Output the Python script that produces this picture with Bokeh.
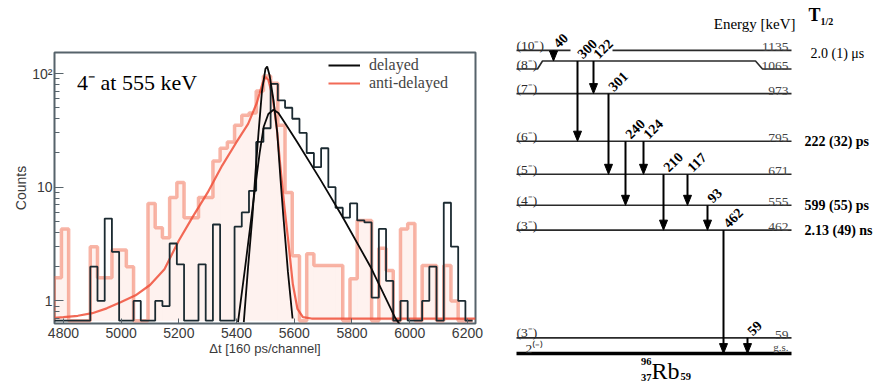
import math
import numpy as np
from bokeh.plotting import figure
from bokeh.layouts import row
from bokeh.models import (Range1d, FixedTicker, Legend, LegendItem, Label, Plot)
from bokeh.core.properties import value
from bokeh.embed import file_html
from bokeh.resources import INLINE

# ---------------- time spectrum data ----------------
BIN_START = 4768
BIN_WIDTH = 25
delayed_counts = [0, 0, 0, 0, 0,
                  2.0, 1.0, 5.3, 2.7, 0,
                  0, 1.0, 0, 0, 1.0,
                  0.9, 3.2, 2.1, 0, 0,
                  2.1, 0, 4.7, 0, 0,
                  4.5, 6.0, 9.3, 25, 33,
                  81, 58, 50, 40, 30,
                  20, 15, 22, 10, 6.6,
                  5.4, 7.2, 5.1, 4.9, 1.07,
                  4.3, 1.5, 0, 1.0, 0,
                  0, 1.0, 2.0, 0, 7.3,
                  3.0, 1.0, 0]
anti_delayed_counts = [1.6, 4.3, 0, 0, 0,
                       3.0, 1.6, 1.6, 2.8, 2.8,
                       2.0, 0, 0, 7.2, 4.4,
                       3.6, 8.1, 11, 5.4, 5.4,
                       8.1, 8.1, 17, 22, 25,
                       35, 43, 45, 70, 95,
                       82, 35, 9, 2.5, 0,
                       2.6, 2.05, 2.05, 2.05, 2.05,
                       0, 1.57, 5.1, 5.1, 0,
                       2.9, 1.85, 0, 4.3, 4.8,
                       0, 2.05, 2.05, 0, 2.05,
                       1.0, 0, 0]

prompt_fit_t = [5425, 5440, 5455, 5466, 5476, 5488, 5500, 5506, 5515, 5528, 5541, 5552, 5562, 5578, 5594]
prompt_fit_c = [0.65, 2.0, 5.6, 14, 30, 70, 110, 115, 95, 58, 30, 12, 5.6, 1.8, 0.7]
delayed_fit_t = [5405, 5430, 5459, 5480, 5494, 5510, 5528, 5545, 5570, 5610, 5691, 5767, 5864, 5951, 5970]
delayed_fit_c = [0.65, 2.0, 7.8, 20, 34, 44, 48, 45, 36, 25, 11.6, 5.5, 2.0, 0.7, 0.6]
anti_fit_t = [4770, 4800, 4850, 4900, 4950, 5000, 5050, 5100, 5150, 5200, 5250, 5300, 5350, 5400,
              5440, 5470, 5490, 5500, 5510, 5525, 5540, 5552, 5565, 5580, 5595, 5611, 5630, 5660, 6228]
anti_fit_c = [0.71, 0.72, 0.74, 0.78, 0.86, 0.98, 1.12, 1.38, 1.9, 3.4, 5.6, 9.0, 15.5, 25,
              36, 55, 82, 93, 88, 62, 32, 15, 7, 3.2, 1.4, 0.85, 0.72, 0.7, 0.7]

x_ticks = [4800, 5000, 5200, 5400, 5600, 5800, 6000, 6200]
y_ticks = [1, 10, 100]
y_minor = [0.7, 0.8, 0.9, 2, 3, 4, 5, 6, 7, 8, 9, 20, 30, 40, 50, 60, 70, 80, 90]
y_tick_labels = {1: "1", 10: "10", 100: "10²"}

# ---------------- level scheme data ----------------
level_E = [1135, 1065, 973, 795, 671, 555, 462, 59, 0]
level_spin = ["(10⁻)", "(8⁻)", "(7⁻)", "(6⁻)", "(5⁻)", "(4⁻)", "(3⁻)", "(3⁻)", "2⁽⁻⁾"]
level_text = ["1135", "1065", "973", "795", "671", "555", "462", "59", "g.s."]
gamma_E = [40, 300, 122, 301, 240, 124, 210, 117, 93, 462, 59]
gamma_from = [1135, 1065, 1065, 973, 795, 795, 671, 671, 555, 462, 59]
gamma_to = [1065, 795, 973, 671, 555, 671, 462, 555, 462, 0, 0]
halflife_E = [1135, 795, 555, 462]
halflife_text = ["2.0 (1) μs", "222 (32) ps", "599 (55) ps", "2.13 (49) ns"]

# ---------------- layout (diagram positions, page pixels) ----------------
gamma_x = [553, 577, 593, 608, 625, 643, 663, 687, 707, 723, 747]
LEVEL_X0, LEVEL_X1 = 516, 791
GAP_1135 = (570, 612)
KINK_1065 = (537, 542, 755, 762)
KINK_DE = 30
spin_dx = [0, 0, 0, 0, 0, 0, 0, 0, 9]
energy_dy = [-3, -3, -3, -3, -3, -3, -3, -3, -7]
energy_size = ["13.5px"] * 8 + ["11px"]
halflife_x = [810, 804, 804, 804]
halflife_dy = [3, 0, 0, 0]
HEAD_W, HEAD_L = 4, 10      # arrow head half-width / length in pixels

SERIF = value("Liberation Serif")
SANS = "Liberation Sans"
BORDER_TOP, BORDER_BOTTOM = 52, 62
FIG_H = 385
HAS_FRAME_ALIGN = "frame_align" in Plot.properties()

# =============== left: time spectrum ===============
FLOOR = 0.67
p1 = figure(width=490, height=FIG_H, x_range=Range1d(4769, 6228), y_range=Range1d(0.633, 153),
            y_axis_type="log", output_backend="svg", toolbar_location=None,
            min_border_left=54, min_border_right=15, min_border_top=BORDER_TOP,
            min_border_bottom=BORDER_BOTTOM)
p1.xgrid.visible = False
p1.ygrid.visible = False
p1.outline_line_color = "#56636b"
p1.outline_line_width = 2

n = len(delayed_counts)
edges = BIN_START + BIN_WIDTH * np.arange(n + 1)


def step_xy(counts):
    c = np.array(counts, dtype=float)
    c = np.where(c > 0, c, FLOOR)
    xs = [edges[0]]
    ys = [FLOOR]
    for k in range(len(c)):
        xs += [edges[k], edges[k + 1]]
        ys += [c[k], c[k]]
    xs.append(edges[-1])
    ys.append(FLOOR)
    return xs, ys, c


ax, ay, ac = step_xy(anti_delayed_counts)
p1.quad(left=edges[:-1], right=edges[1:], bottom=FLOOR, top=ac,
        fill_color="#f4957a", fill_alpha=0.12, line_color=None)
p1.line(ax, ay, line_color="#f26b4f", line_width=3.5, line_alpha=0.5)
r_anti = p1.line(anti_fit_t, anti_fit_c, line_color="#f0503a", line_width=2.2, line_alpha=0.85)

dx, dy, _ = step_xy(delayed_counts)
p1.line(dx, dy, line_color="#1b2a31", line_width=1.8)
r_prompt = p1.line(prompt_fit_t, prompt_fit_c, line_color="#0a0a0a", line_width=1.8)
p1.line(delayed_fit_t, delayed_fit_c, line_color="#0a0a0a", line_width=1.8)

xa = p1.xaxis[0]
xa.ticker = FixedTicker(ticks=x_ticks)
xa.axis_line_color = None
xa.major_tick_in = 5
xa.major_tick_out = 0
xa.minor_tick_line_color = None
xa.major_tick_line_color = "#56636b"
xa.major_label_text_font = SANS
xa.major_label_text_font_size = "14px"
xa.major_label_text_color = "#3a3a3a"
xa.major_label_standoff = 4
xa.axis_label = "Δt [160 ps/channel]"
xa.axis_label_text_font = SANS
xa.axis_label_text_font_size = "13px"
xa.axis_label_text_font_style = "normal"
xa.axis_label_text_color = "#3a3a3a"
xa.axis_label_standoff = 0

ya = p1.yaxis[0]
ya.ticker = FixedTicker(ticks=y_ticks, minor_ticks=y_minor)
ya.major_label_overrides = y_tick_labels
ya.axis_line_color = None
ya.major_tick_in = 9
ya.major_tick_out = 0
ya.minor_tick_in = 5
ya.minor_tick_out = 0
ya.major_tick_line_color = "#56636b"
ya.minor_tick_line_color = "#56636b"
ya.major_label_text_font = SANS
ya.major_label_text_font_size = "14px"
ya.major_label_text_color = "#3a3a3a"
ya.major_label_standoff = 2
ya.axis_label = "Counts"
ya.axis_label_text_font = SANS
ya.axis_label_text_font_size = "14px"
ya.axis_label_text_font_style = "normal"
ya.axis_label_text_color = "#3a3a3a"
ya.axis_label_standoff = 0

p1.add_layout(Label(x=4847, y=83, text="4⁻ at 555 keV", text_font="Liberation Serif",
                    text_font_size="22px", text_baseline="middle", text_color="black"))

legend = Legend(items=[LegendItem(label="delayed", renderers=[r_prompt]),
                       LegendItem(label="anti-delayed", renderers=[r_anti])],
                location=(274, 231), glyph_width=32, glyph_height=18, label_height=18,
                label_standoff=9, padding=0, spacing=0, margin=0,
                label_text_font="Liberation Serif", label_text_font_size="16px",
                background_fill_alpha=0, border_line_color=None)
p1.add_layout(legend)

# =============== right: level scheme ===============
Y0, SCALE = 353.1, 0.2672     # page-pixel layout of the energy axis


def ey(page_y):
    return (Y0 - page_y) / SCALE


if HAS_FRAME_ALIGN:
    b_top, b_bot = 0, 0
else:
    b_top, b_bot = BORDER_TOP, BORDER_BOTTOM

p2 = figure(width=385, height=FIG_H, x_range=Range1d(490, 875),
            y_range=Range1d(ey(FIG_H - b_bot), ey(b_top)),
            output_backend="svg", toolbar_location=None, min_border_left=0, min_border_right=0,
            min_border_top=b_top, min_border_bottom=b_bot,
            x_axis_type=None, y_axis_type=None)
if HAS_FRAME_ALIGN:
    p2.frame_align = False
p2.xgrid.visible = False
p2.ygrid.visible = False
p2.outline_line_color = None

OV = dict(level="overlay")


def disp_E(E, x):
    if E == 1065 and KINK_1065[1] <= x <= KINK_1065[2]:
        return E + KINK_DE
    return E


lx, ly = [], []
for E in level_E:
    if E == 0:
        continue
    if E == 1135:
        lx.append([LEVEL_X0, GAP_1135[0], float("nan"), GAP_1135[1], LEVEL_X1])
        ly.append([E, E, float("nan"), E, E])
    elif E == 1065:
        lx.append([LEVEL_X0, KINK_1065[0], KINK_1065[1], KINK_1065[2], KINK_1065[3], LEVEL_X1])
        ly.append([E, E, E + KINK_DE, E + KINK_DE, E, E])
    else:
        lx.append([LEVEL_X0, LEVEL_X1])
        ly.append([E, E])
p2.multi_line(lx, ly, line_color="#2a2a2a", line_width=1.6, **OV)
p2.segment(x0=[LEVEL_X0], x1=[LEVEL_X1], y0=[0], y1=[0], line_color="black", line_width=3.5, **OV)

p2.text(x=[LEVEL_X0 + d for d in spin_dx], y=level_E, text=level_spin, text_font=SERIF,
        text_font_size="13.5px", text_color="#2a2a2a", text_baseline="alphabetic", y_offset=-5, **OV)
p2.text(x=[788] * len(level_E), y=level_E, text=level_text, text_font=SERIF,
        text_font_size=energy_size, text_color="#444444", text_align="right",
        text_baseline="alphabetic", y_offset=energy_dy, **OV)

for i, (E, t) in enumerate(zip(halflife_E, halflife_text)):
    p2.text(x=[halflife_x[i]], y=[E], text=[t], text_font=SERIF, text_font_size="14px",
            text_font_style="normal" if i == 0 else "bold", text_color="black",
            text_baseline="middle", y_offset=halflife_dy[i], **OV)

# gamma transitions: shafts and heads
y_start = [disp_E(f, x) for f, x in zip(gamma_from, gamma_x)]
y_end = [disp_E(t, x) for t, x in zip(gamma_to, gamma_x)]
head_dE = HEAD_L / SCALE
p2.segment(x0=gamma_x, x1=gamma_x, y0=y_start, y1=[e + head_dE * 0.5 for e in y_end],
           line_color="black", line_width=2, **OV)
p2.patches(xs=[[x - HEAD_W, x + HEAD_W, x] for x in gamma_x],
           ys=[[e + head_dE, e + head_dE, e] for e in y_end],
           fill_color="black", line_color="black", line_width=1, **OV)
p2.text(x=gamma_x, y=y_start, text=[str(g) for g in gamma_E], angle=math.pi / 4,
        text_font=SERIF, text_font_size="14px", text_font_style="bold", text_color="black",
        text_baseline="alphabetic", text_align="left", x_offset=2, y_offset=-5, **OV)

# headers
p2.text(x=[795], y=[ey(23)], text=["Energy [keV]"], text_font=SERIF, text_font_size="15px",
        text_align="right", text_baseline="middle", text_color="black", **OV)
p2.text(x=[808], y=[ey(14)], text=["T"], text_font=SERIF, text_font_size="18px",
        text_font_style="bold", text_baseline="middle", text_color="black", **OV)
p2.text(x=[820], y=[ey(21)], text=["1/2"], text_font=SERIF, text_font_size="10px",
        text_font_style="bold", text_baseline="middle", text_color="black", **OV)

# nucleus label
p2.text(x=[651], y=[ey(370)], text=["Rb"], text_font=SERIF, text_font_size="24px",
        text_baseline="alphabetic", text_color="black", **OV)
p2.text(x=[651], y=[ey(361)], text=["96"], text_font=SERIF, text_font_size="10.5px",
        text_font_style="bold", text_align="right", text_baseline="alphabetic", **OV)
p2.text(x=[651], y=[ey(377)], text=["37"], text_font=SERIF, text_font_size="10.5px",
        text_font_style="bold", text_align="right", text_baseline="alphabetic", **OV)
p2.text(x=[680], y=[ey(376)], text=["59"], text_font=SERIF, text_font_size="10.5px",
        text_font_style="bold", text_align="left", text_baseline="alphabetic", **OV)

layout = row(p1, p2)
open("out.html", "w").write(file_html(layout, INLINE))
